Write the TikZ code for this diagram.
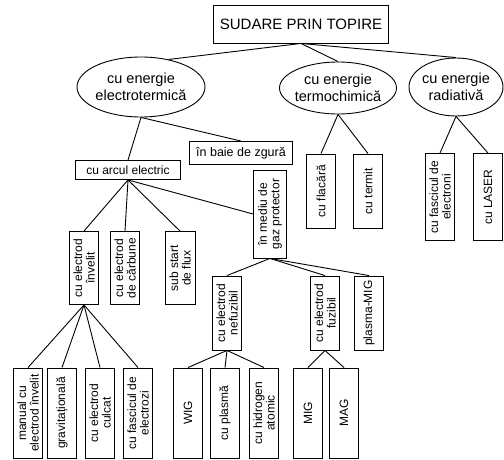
\documentclass[tikz,border=0pt]{standalone}
\usepackage{fontspec}
\setmainfont{Liberation Sans}
\usetikzlibrary{shapes.geometric}

\begin{document}
\begin{tikzpicture}[
x=1pt,y=-1pt,
font=\fontsize{12}{12.5}\selectfont,
line width=0.9pt,
boxnode/.style={draw,rectangle,inner sep=1.5pt,align=center},
vbox/.style={boxnode,rotate=90,minimum height=29pt},
oval/.style={draw,ellipse,inner xsep=-5pt,inner ysep=1pt,align=center,
  font=\fontsize{14.5}{17}\selectfont}]
    % Frame
    \useasboundingbox (0,0) rectangle (504,460);

    % Top levels
    \node[boxnode,minimum width=175pt,minimum height=38pt,font=\fontsize{15}{17}\selectfont]
        (root) at (301,24) {SUDARE PRIN TOPIRE};
    \node[oval,minimum width=128pt,minimum height=60pt] (electro) at (141,87) {cu energie\\electrotermică};
    \node[oval,minimum width=117pt,minimum height=52pt] (termo) at (338,88) {cu energie\\termochimică};
    \node[oval,minimum width=94pt,minimum height=58pt] (radiativa) at (456,87) {cu energie\\radiativă};

    \draw (root.south) -- (electro.45);
    \draw (root.south) -- (termo.north);
    \draw (root.south) -- (radiativa.north);

    % Electrotermic
    \node[boxnode,minimum width=103pt,minimum height=23pt,font=\fontsize{12.5}{13}\selectfont]
        (baie) at (241,153) {în baie de zgură};
    \node[boxnode,minimum width=105pt,minimum height=19pt] (arcul) at (128,170) {cu arcul electric};
    \draw (electro.south) -- (arcul.north);
    \draw (electro.south) -- (baie.north);

    % Termochimic and radiativ
    \node[vbox,minimum width=74pt] (flacara) at (321,191) {cu flacără};
    \node[vbox,minimum width=74pt] (termit) at (368,191) {cu termit};
    \node[vbox,minimum width=87pt] (fascicul) at (440,197) {cu fascicul de\\electroni};
    \node[vbox,minimum width=87pt] (laser) at (488,197) {cu LASER};
    \draw (termo.south) -- (flacara.east);
    \draw (termo.south) -- (termit.east);
    \draw (radiativa.south) -- (fascicul.east);
    \draw (radiativa.south) -- (laser.east);

    % Arcul electric
    \node[vbox,minimum width=73pt] (invelit) at (84,268) {cu electrod\\învelit};
    \node[vbox,minimum width=73pt] (carbune) at (125,268) {cu electrod\\de cărbune};
    \node[vbox,minimum width=73pt,minimum height=30pt] (flux) at (180,268) {sub start\\de flux};
    \node[vbox,minimum width=88pt,minimum height=33pt] (gaz) at (270,214) {în mediu de\\gaz protector};
    \draw (arcul.south) -- (invelit.east);
    \draw (arcul.south) -- (carbune.east);
    \draw (arcul.south) -- (flux.east);
    \draw (arcul.south) -- (gaz.north);

    % Electrod invelit
    \node[vbox,minimum width=90pt] (manual) at (28,413) {manual cu\\electrod învelit};
    \node[vbox,minimum width=90pt] (grav) at (62,413) {gravitațională};
    \node[vbox,minimum width=90pt] (culcat) at (100,413) {cu electrod\\culcat};
    \node[vbox,minimum width=90pt] (electrozi) at (138,413) {cu fascicul de\\electrozi};
    \draw (invelit.west) -- (manual.east);
    \draw (invelit.west) -- (grav.east);
    \draw (invelit.west) -- (culcat.east);
    \draw (invelit.west) -- (electrozi.east);

    % Gaz protector
    \node[vbox,minimum width=74pt] (nefuzibil) at (227,313) {cu electrod\\nefuzibil};
    \node[vbox,minimum width=74pt] (fuzibil) at (325,313) {cu electrod\\fuzibil};
    \node[vbox,minimum width=74pt] (plasmamig) at (369,313) {plasma-MIG};
    \draw (gaz.west) -- (nefuzibil.east);
    \draw (gaz.west) -- (fuzibil.east);
    \draw (gaz.west) -- (plasmamig.east);

    \node[vbox,minimum width=90pt] (wig) at (188,413) {WIG};
    \node[vbox,minimum width=90pt] (plasma) at (225,413) {cu plasmă};
    \node[vbox,minimum width=90pt] (hidrogen) at (264,413) {cu hidrogen\\atomic};
    \node[vbox,minimum width=90pt] (mig) at (308,413) {MIG};
    \node[vbox,minimum width=90pt] (mag) at (344,413) {MAG};
    \draw (nefuzibil.west) -- (wig.east);
    \draw (nefuzibil.west) -- (plasma.east);
    \draw (nefuzibil.west) -- (hidrogen.east);
    \draw (fuzibil.west) -- (mig.east);
    \draw (fuzibil.west) -- (mag.east);

\end{tikzpicture}
\end{document}
